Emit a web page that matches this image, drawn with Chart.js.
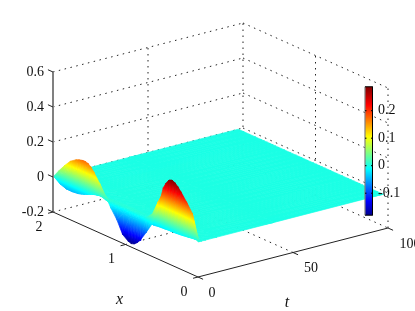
<!DOCTYPE html>
<html>
<head>
<meta charset="utf-8">
<style>
  html, body { margin: 0; padding: 0; background: #fff; overflow: hidden; }
  canvas { display: block; }
</style>
<script src="https://cdn.jsdelivr.net/npm/chart.js@4"></script>
</head>
<body>
<canvas id="surfaceChart" width="415" height="311"></canvas>
<script>
let xGrid = [0, 0.08, 0.16, 0.24, 0.28, 0.32, 0.36, 0.4, 0.44, 0.48, 0.56, 0.64, 0.72, 0.8, 0.84, 0.88, 0.92, 0.96, 1.04, 1.12, 1.2, 1.28, 1.36, 1.44, 1.48, 1.52, 1.56, 1.6, 1.64, 1.68, 1.76, 1.84, 1.92, 2]
let tGrid = [0, 0.5, 1, 2, 4, 10, 40, 97.5]

let zAtT0 = [0, 0.15, 0.2, 0.245, 0.265, 0.28, 0.287, 0.28, 0.255, 0.22, 0.07, -0.02, -0.082, -0.14, -0.16, -0.175, -0.18, -0.175, -0.15, -0.08, -0.03, 0.03, 0.085, 0.135, 0.155, 0.168, 0.172, 0.17, 0.165, 0.158, 0.135, 0.095, 0.05, 0]
let zAtT05 = [0, 0.08, 0.11, 0.135, 0.15, 0.16, 0.17, 0.18, 0.19, 0.2, 0.125, 0.04, 0.005, -0.02, -0.03, -0.03, -0.035, -0.035, -0.03, -0.02, -0.01, 0, 0.01, 0.03, 0.045, 0.06, 0.07, 0.075, 0.075, 0.07, 0.05, 0.03, 0.015, 0]
let zAtT1 = [0, 0, -0.005, -0.01, -0.012, -0.013, -0.015, -0.015, -0.016, -0.018, -0.02, -0.025, -0.015, -0.005, 0, 0, 0.003, 0.005, 0.005, 0.003, 0.003, 0.01, 0.015, 0.003, -0.005, -0.012, -0.02, -0.027, -0.033, -0.038, -0.042, -0.042, -0.03, 0]
let zAtT2 = [0, 0.002, 0.005, 0.008, 0.009, 0.01, 0.011, 0.012, 0.012, 0.012, 0.01, 0.005, 0.003, 0.003, 0.004, 0.005, 0.005, 0.006, 0.005, 0.005, 0.004, 0.003, 0, -0.005, -0.007, -0.01, -0.012, -0.015, -0.015, -0.015, -0.015, -0.012, -0.006, 0]
let zAtT4 = [0, 0.001, 0.002, 0.002, 0.002, 0.003, 0.003, 0.003, 0.003, 0.003, 0.002, 0.002, 0.002, 0.002, 0.002, 0.002, 0.002, 0.002, 0.002, 0.002, 0.002, 0.001, 0.001, 0.001, 0.001, 0, 0, 0, 0, 0, 0, 0, 0, 0]
let zAtT10 = [0, 0.001, 0.001, 0.002, 0.002, 0.002, 0.002, 0.002, 0.002, 0.002, 0.002, 0.002, 0.002, 0.002, 0.002, 0.002, 0.002, 0.002, 0.002, 0.002, 0.002, 0.002, 0.002, 0.002, 0.001, 0.001, 0.001, 0.001, 0.001, 0.001, 0.001, 0.001, 0, 0]
let zAtT40 = [0, 0, 0.001, 0.001, 0.001, 0.001, 0.001, 0.001, 0.001, 0.001, 0.001, 0.001, 0.001, 0.001, 0.001, 0.001, 0.001, 0.001, 0.001, 0.001, 0.001, 0.001, 0.001, 0.001, 0.001, 0.001, 0.001, 0.001, 0, 0, 0, 0, 0, 0]
let zAtT97 = [0, 0, 0, 0, 0, 0, 0, 0, 0, 0, 0, 0, 0, 0, 0, 0, 0, 0, 0, 0, 0, 0, 0, 0, 0, 0, 0, 0, 0, 0, 0, 0, 0, 0]
let zRows = [zAtT0, zAtT05, zAtT1, zAtT2, zAtT4, zAtT10, zAtT40, zAtT97]

let zTicks = [-0.2, 0, 0.2, 0.4, 0.6]
let zTickLabels = ['-0.2', '0', '0.2', '0.4', '0.6']
let xTicks = [0, 1, 2]
let tTicks = [0, 50, 100]
let colorTicks = [-0.1, 0, 0.1, 0.2]
let colorTickLabels = ['-0.1', '0', '0.1', '0.2']
let xLabel = 'x'
let tLabel = 't'

let colorMin = -0.18
let colorMax = 0.287
let jetStops = [[0, 0, 0, 143], [0.11, 0, 0, 255], [0.36, 0, 255, 255], [0.61, 255, 255, 0], [0.86, 255, 0, 0], [1, 128, 0, 0]]

// axes box, the picture's view of it
let zBottom = -0.2
let zTop = 0.6
let project = (t, x, z) => ({
  x: 198 + t * 1.9 - x * 72.5,
  y: 277 - t * 0.49 - x * 32.5 - (z - zBottom) * 175
})

let jetAt = (frac) => {
  frac = Math.min(1, Math.max(0, frac))
  for (let i = 1; i < jetStops.length; i++) {
    if (frac <= jetStops[i][0]) {
      let a = jetStops[i - 1], b = jetStops[i]
      let k = (frac - a[0]) / (b[0] - a[0])
      return `rgb(${a[1] + (b[1] - a[1]) * k},${a[2] + (b[2] - a[2]) * k},${a[3] + (b[3] - a[3]) * k})`
    }
  }
}
let jetOf = (z) => jetAt((z - colorMin) / (colorMax - colorMin))

// linear gradient over one triangle of the mesh, so the colour follows z
let triangleFill = (chart, tri) => {
  let avg = (tri[0].z + tri[1].z + tri[2].z) / 3
  if (!chart.chartArea) return jetOf(avg)
  let zs = tri.map(p => p.z)
  let lo = Math.min(...zs), hi = Math.max(...zs)
  if (hi - lo < 0.0005) return jetOf(avg)
  let px = tri.map(p => chart.scales.x.getPixelForValue(p.x))
  let py = tri.map(p => chart.scales.y.getPixelForValue(p.y))
  let ax = px[1] - px[0], ay = py[1] - py[0], az = zs[1] - zs[0]
  let bx = px[2] - px[0], by = py[2] - py[0], bz = zs[2] - zs[0]
  let det = ax * by - ay * bx
  if (Math.abs(det) < 0.01) return jetOf(avg)
  let gx = (az * by - ay * bz) / det
  let gy = (ax * bz - az * bx) / det
  let g2 = gx * gx + gy * gy
  let grad = chart.ctx.createLinearGradient(
    px[0] + gx * (lo - zs[0]) / g2, py[0] + gy * (lo - zs[0]) / g2,
    px[0] + gx * (hi - zs[0]) / g2, py[0] + gy * (hi - zs[0]) / g2
  )
  grad.addColorStop(0, jetOf(lo))
  grad.addColorStop(1, jetOf(hi))
  jetStops.forEach(s => {
    let z = colorMin + s[0] * (colorMax - colorMin)
    if (z > lo && z < hi) grad.addColorStop((z - lo) / (hi - lo), jetOf(z))
  })
  return grad
}

let lineSet = (pts, color, width, dash) => ({
  data: pts,
  showLine: true,
  pointRadius: 0,
  borderColor: color,
  borderWidth: width,
  borderDash: dash || [],
  fill: false,
  tension: 0
})
let dots = (pts) => lineSet(pts, '#222', 1, [1.5, 4.5])

let triangleSet = (a, b, c) => {
  let tri = [a, b, c]
  let style = (ctx) => {
    if (ctx.chart.chartArea && !tri.fillStyle) tri.fillStyle = triangleFill(ctx.chart, tri)
    return tri.fillStyle || triangleFill(ctx.chart, tri)
  }
  return {
    data: [a, b, c, a],
    showLine: true,
    pointRadius: 0,
    borderWidth: 0.7,
    borderColor: style,
    backgroundColor: style,
    fill: 'shape',
    tension: 0
  }
}

let buildDatasets = () => {
  let sets = []
  let tEnd = tTicks[tTicks.length - 1]
  let xEnd = xTicks[xTicks.length - 1]

  // dotted walls and floor, behind the surface
  zTicks.forEach(z => {
    sets.push(dots([project(0, xEnd, z), project(tEnd, xEnd, z)]))
    sets.push(dots([project(tEnd, xEnd, z), project(tEnd, 0, z)]))
  })
  tTicks.slice(1).forEach(t => {
    sets.push(dots([project(t, xEnd, zBottom), project(t, xEnd, zTop)]))
    if (t < tEnd) sets.push(dots([project(t, 0, zBottom), project(t, xEnd, zBottom)]))
  })
  xTicks.slice(0, 2).forEach(x => {
    sets.push(dots([project(tEnd, x, zBottom), project(tEnd, x, zTop)]))
    if (x > 0) sets.push(dots([project(0, x, zBottom), project(tEnd, x, zBottom)]))
  })

  // surface, back to front
  for (let r = tGrid.length - 2; r >= 0; r--) {
    for (let c = xGrid.length - 2; c >= 0; c--) {
      let vertex = (rr, cc) => ({ ...project(tGrid[rr], xGrid[cc], zRows[rr][cc]), z: zRows[rr][cc] })
      let p00 = vertex(r, c), p01 = vertex(r, c + 1), p10 = vertex(r + 1, c), p11 = vertex(r + 1, c + 1)
      sets.push(triangleSet(p01, p11, p10))
      sets.push(triangleSet(p00, p01, p10))
    }
  }

  // solid axes and ticks
  sets.push(lineSet([project(0, xEnd, zBottom), project(0, xEnd, zTop)], '#808080', 2))
  sets.push(lineSet([project(0, 0, zBottom), project(0, xEnd, zBottom)], '#222', 1))
  sets.push(lineSet([project(0, 0, zBottom), project(tEnd, 0, zBottom)], '#222', 1))
  xTicks.forEach(x => sets.push(lineSet([project(0, x, zBottom), project(-2.6, x, zBottom)], '#222', 1)))
  tTicks.forEach(t => sets.push(lineSet([project(t, 0, zBottom), project(t, -0.07, zBottom)], '#222', 1)))
  zTicks.forEach(z => sets.push(lineSet([project(0, xEnd, z), project(0, xEnd + 0.07, z)], '#222', 1)))

  // colour bar
  let barY = (v) => 165.7 - v * 275
  let barLeft = 365, barRight = 372.5
  let barTop = barY(colorMax), barBottom = barY(colorMin)
  sets.push({
    data: [{ x: barLeft, y: barTop }, { x: barRight, y: barTop }, { x: barRight, y: barBottom }, { x: barLeft, y: barBottom }, { x: barLeft, y: barTop }],
    showLine: true,
    pointRadius: 0,
    borderWidth: 0,
    fill: 'shape',
    tension: 0,
    backgroundColor: (ctx) => {
      let ch = ctx.chart
      if (!ch.chartArea) return '#0ff'
      let grad = ch.ctx.createLinearGradient(0, ch.scales.y.getPixelForValue(barBottom), 0, ch.scales.y.getPixelForValue(barTop))
      jetStops.forEach(s => grad.addColorStop(s[0], jetAt(s[0])))
      return grad
    }
  })
  sets.push(lineSet([{ x: barLeft, y: barTop }, { x: barLeft, y: barBottom }], '#808080', 1.2))
  sets.push(lineSet([{ x: barLeft, y: barTop }, { x: barRight, y: barTop }, { x: barRight, y: barBottom }, { x: barLeft, y: barBottom }], '#000', 1))
  colorTicks.forEach(v => {
    sets.push(lineSet([{ x: barLeft, y: barY(v) }, { x: barLeft + 1.5, y: barY(v) }], '#000', 1))
    sets.push(lineSet([{ x: barRight - 1.5, y: barY(v) }, { x: barRight, y: barY(v) }], '#000', 1))
  })

  // chart.js paints the first dataset last
  return sets.reverse()
}

let labelsPlugin = {
  id: 'axisText',
  afterDraw(chart) {
    let c = chart.ctx
    let sx = chart.scales.x, sy = chart.scales.y
    let put = (text, p, dx, dy, align, font) => {
      c.font = font || '14px "Liberation Serif"'
      c.textAlign = align
      c.textBaseline = 'middle'
      c.fillStyle = '#111'
      c.fillText(text, sx.getPixelForValue(p.x) + dx, sy.getPixelForValue(p.y) + dy)
    }
    c.save()
    zTicks.forEach((z, i) => put(zTickLabels[i], project(0, 2, z), -9, 0, 'right'))
    xTicks.forEach(x => put(String(x), project(0, x, zBottom), -14, 15, 'center'))
    tTicks.forEach(t => put(String(t), project(t, 0, zBottom), 14 + t * 0.08, 16, 'center'))
    colorTicks.forEach((v, i) => put(colorTickLabels[i], { x: 378, y: 165.7 - v * 275 }, 0, 0, 'left'))
    put(xLabel, project(0, 1, zBottom), -6, 55, 'center', 'italic 16px "Liberation Serif"')
    put(tLabel, project(50, 0, zBottom), -6, 50, 'center', 'italic 16px "Liberation Serif"')
    c.restore()
  }
}

let createSurfaceChart = () => {
  const ctx = document.getElementById('surfaceChart').getContext('2d')
  return new Chart(ctx, {
    type: 'scatter',
    data: { datasets: buildDatasets() },
    plugins: [labelsPlugin],
    options: {
      responsive: false,
      animation: false,
      events: [],
      layout: { padding: 0 },
      plugins: { legend: { display: false }, tooltip: { enabled: false } },
      elements: { line: { capBezierPoints: false } },
      scales: {
        x: { type: 'linear', display: false, min: 0, max: 415 },
        y: { type: 'linear', display: false, min: 0, max: 311, reverse: true }
      }
    }
  })
}

let chartInstance = createSurfaceChart()
</script>
</body>
</html>
